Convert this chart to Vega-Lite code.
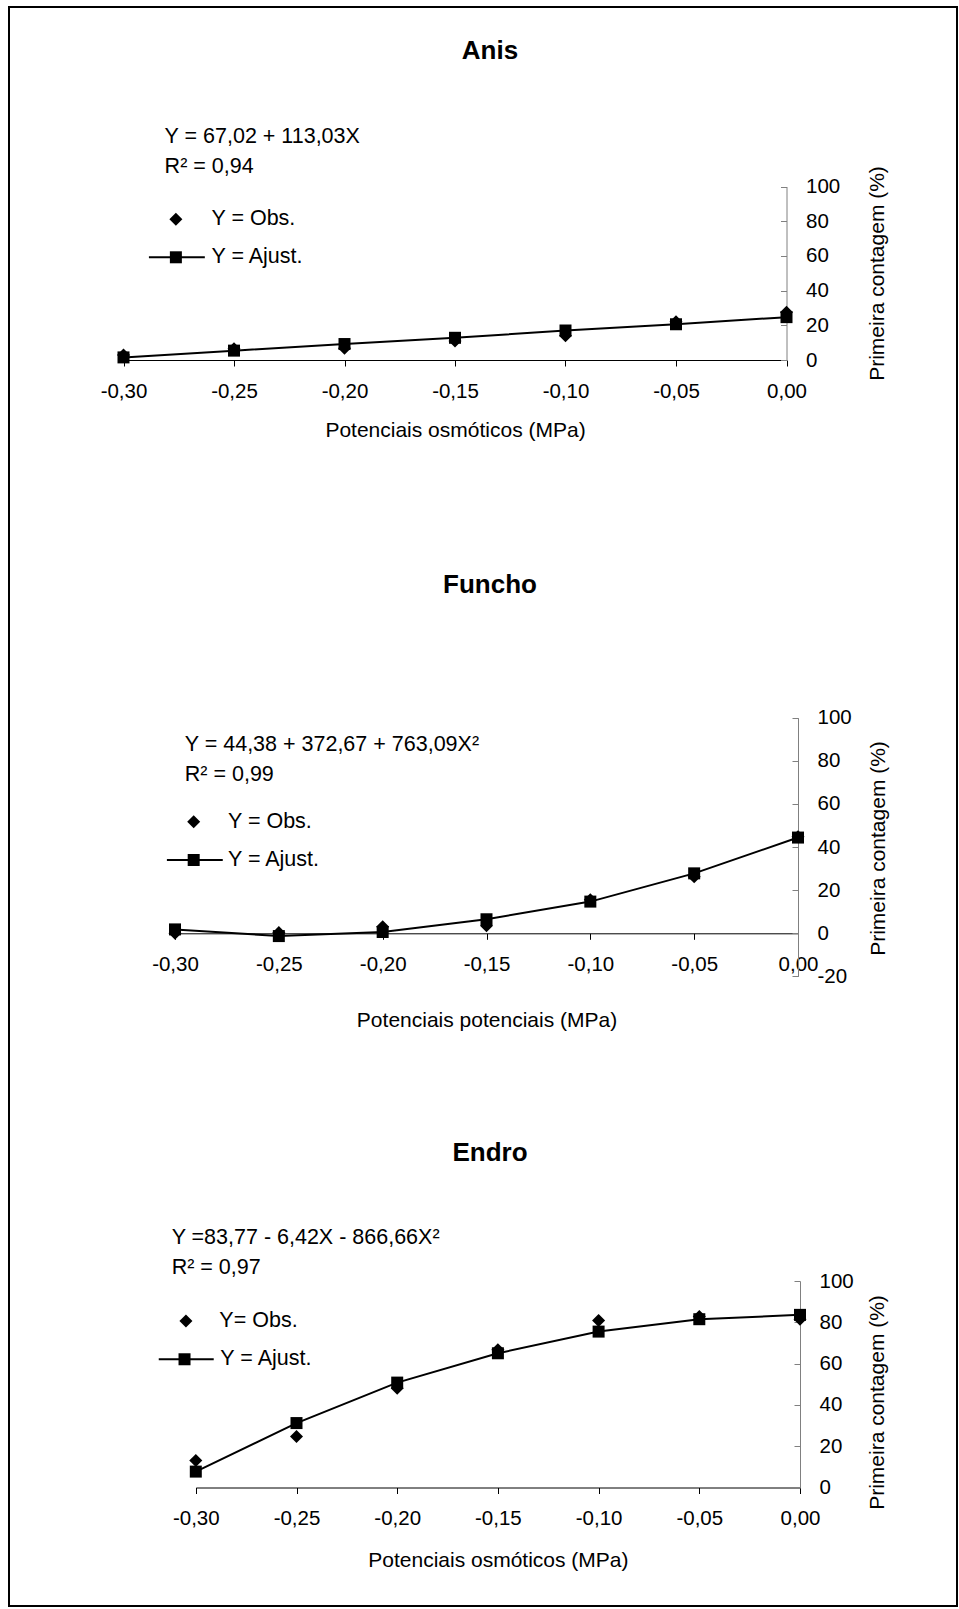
{
  "$schema": "https://vega.github.io/schema/vega-lite/v6.json",
  "width": 948,
  "height": 1599,
  "autosize": {"type": "none"},
  "padding": {"left": 9, "top": 7, "right": 2, "bottom": 3},
  "background": "white",
  "config": {
    "view": {"stroke": "#000", "strokeWidth": 2},
    "font": "Liberation Sans",
    "axis": {
      "grid": false,
      "labelFont": "Liberation Sans",
      "labelFontSize": 20.5,
      "labelColor": "#000",
      "titleFont": "Liberation Sans",
      "titleFontSize": 21,
      "titleFontWeight": "normal",
      "titleColor": "#000",
      "labelOverlap": false,
      "labelFlush": false,
      "labelBound": false
    },
    "text": {"font": "Liberation Sans", "fontSize": 21.5, "color": "#000"}
  },
  "datasets": {
    "anis": [
      {"p": -0.30, "obs": 2.9, "fit": 1.5},
      {"p": -0.25, "obs": 6.5, "fit": 5.4},
      {"p": -0.20, "obs": 6.8, "fit": 9.2},
      {"p": -0.15, "obs": 11.0, "fit": 12.8},
      {"p": -0.10, "obs": 14.0, "fit": 17.0},
      {"p": -0.05, "obs": 22.0, "fit": 20.6},
      {"p": 0.00, "obs": 27.5, "fit": 24.7}
    ],
    "funcho": [
      {"p": -0.30, "obs": 0.0, "fit": 1.8},
      {"p": -0.25, "obs": 0.3, "fit": -1.3},
      {"p": -0.20, "obs": 3.0, "fit": 0.6},
      {"p": -0.15, "obs": 3.5, "fit": 6.5},
      {"p": -0.10, "obs": 15.5, "fit": 14.7},
      {"p": -0.05, "obs": 26.2, "fit": 27.8},
      {"p": 0.00, "obs": 44.8, "fit": 44.4}
    ],
    "endro": [
      {"p": -0.30, "obs": 13.1, "fit": 7.7},
      {"p": -0.25, "obs": 24.7, "fit": 31.2},
      {"p": -0.20, "obs": 48.1, "fit": 50.8},
      {"p": -0.15, "obs": 66.7, "fit": 65.0},
      {"p": -0.10, "obs": 80.9, "fit": 75.5},
      {"p": -0.05, "obs": 82.8, "fit": 81.5},
      {"p": 0.00, "obs": 81.5, "fit": 83.6}
    ],
    "one": [{}]
  },
  "layer": [
    {
      "data": {"name": "anis"},
      "layer": [
        {
          "mark": {"type": "point", "shape": "diamond", "filled": true, "size": 170, "color": "#000", "opacity": 1},
          "encoding": {
            "x": {"field": "p", "type": "quantitative",
              "scale": {"domain": [-0.3, 0], "range": [114.5, 777.5], "nice": false, "zero": false},
              "axis": {"orient": "bottom", "offset": -1246, "values": [-0.3, -0.25, -0.2, -0.15, -0.1, -0.05, 0],
                "labelExpr": "(datum.value < 0 ? '-' : '') + replace(format(abs(datum.value), '.2f'), '.', ',')",
                "tickSize": 6, "tickColor": "#000", "domainColor": "#000", "labelPadding": 15,
                "title": "Potenciais osmóticos (MPa)", "titleY": 70, "titleBaseline": "middle"}},
            "y": {"field": "obs", "type": "quantitative",
              "scale": {"domain": [0, 100], "range": [353, 179.5], "nice": false, "zero": false},
              "axis": {"orient": "right", "offset": -170.5, "values": [0, 20, 40, 60, 80, 100],
                "labelExpr": "(datum.value < 0 ? '-' : '') + format(abs(datum.value), 'd')",
                "tickSize": -6, "labelPadding": 25, "labelAlign": "left", "labelBaseline": "middle",
                "domainColor": "#808080", "tickColor": "#808080",
                "title": "Primeira contagem (%)", "titleAngle": 270, "titleX": 90.5, "titleY": 266,
                "titleAlign": "center", "titleBaseline": "middle"}}
          }
        },
        {
          "mark": {"type": "line", "color": "#000", "strokeWidth": 2},
          "encoding": {
            "x": {"field": "p", "type": "quantitative"},
            "y": {"field": "fit", "type": "quantitative"}
          }
        },
        {
          "mark": {"type": "point", "shape": "square", "filled": true, "size": 144, "color": "#000", "opacity": 1},
          "encoding": {
            "x": {"field": "p", "type": "quantitative"},
            "y": {"field": "fit", "type": "quantitative"}
          }
        },
        {
          "data": {"name": "one"},
          "mark": {"type": "text", "align": "center", "baseline": "middle", "fontSize": 26, "fontWeight": "bold"},
          "encoding": {"x": {"datum": -0.1342, "type": "quantitative"}, "y": {"datum": 178.1, "type": "quantitative"}, "text": {"value": "Anis"}}
        },
        {
          "data": {"name": "one"},
          "mark": {"type": "text", "align": "left", "baseline": "middle"},
          "encoding": {"x": {"datum": -0.2814, "type": "quantitative"}, "y": {"datum": 128.7, "type": "quantitative"}, "text": {"value": "Y = 67,02 + 113,03X"}}
        },
        {
          "data": {"name": "one"},
          "mark": {"type": "text", "align": "left", "baseline": "middle"},
          "encoding": {"x": {"datum": -0.2814, "type": "quantitative"}, "y": {"datum": 111.4, "type": "quantitative"}, "text": {"value": "R² = 0,94"}}
        },
        {
          "data": {"name": "one"},
          "mark": {"type": "point", "shape": "diamond", "filled": true, "size": 170, "color": "#000", "opacity": 1},
          "encoding": {"x": {"datum": -0.2763, "type": "quantitative"}, "y": {"datum": 81.1, "type": "quantitative"}}
        },
        {
          "data": {"name": "one"},
          "mark": {"type": "text", "align": "left", "baseline": "middle"},
          "encoding": {"x": {"datum": -0.2602, "type": "quantitative"}, "y": {"datum": 81.1, "type": "quantitative"}, "text": {"value": "Y = Obs."}}
        },
        {
          "data": {"name": "one"},
          "mark": {"type": "rule", "color": "#000", "strokeWidth": 2},
          "encoding": {"x": {"datum": -0.2885, "type": "quantitative"}, "x2": {"datum": -0.2632}, "y": {"datum": 59.2, "type": "quantitative"}}
        },
        {
          "data": {"name": "one"},
          "mark": {"type": "point", "shape": "square", "filled": true, "size": 144, "color": "#000", "opacity": 1},
          "encoding": {"x": {"datum": -0.2763, "type": "quantitative"}, "y": {"datum": 59.2, "type": "quantitative"}}
        },
        {
          "data": {"name": "one"},
          "mark": {"type": "text", "align": "left", "baseline": "middle"},
          "encoding": {"x": {"datum": -0.2602, "type": "quantitative"}, "y": {"datum": 59.2, "type": "quantitative"}, "text": {"value": "Y = Ajust."}}
        }
      ]
    },
    {
      "data": {"name": "funcho"},
      "layer": [
        {
          "mark": {"type": "point", "shape": "diamond", "filled": true, "size": 170, "color": "#000", "opacity": 1},
          "encoding": {
            "x": {"field": "p", "type": "quantitative",
              "scale": {"domain": [-0.3, 0], "range": [166, 789], "nice": false, "zero": false},
              "axis": {"orient": "bottom", "offset": -672.7, "values": [-0.3, -0.25, -0.2, -0.15, -0.1, -0.05, 0],
                "labelExpr": "(datum.value < 0 ? '-' : '') + replace(format(abs(datum.value), '.2f'), '.', ',')",
                "tickSize": 6, "tickColor": "#000", "domainColor": "#000", "labelPadding": 15,
                "title": "Potenciais potenciais (MPa)", "titleY": 87, "titleBaseline": "middle"}},
            "y": {"field": "obs", "type": "quantitative",
              "scale": {"domain": [-20, 100], "range": [969.4, 710.7], "nice": false, "zero": false},
              "axis": {"orient": "right", "offset": -159, "values": [-20, 0, 20, 40, 60, 80, 100],
                "labelExpr": "(datum.value < 0 ? '-' : '') + format(abs(datum.value), 'd')",
                "tickSize": -6, "labelPadding": 25, "labelAlign": "left", "labelBaseline": "middle",
                "domainColor": "#808080", "tickColor": "#808080",
                "title": "Primeira contagem (%)", "titleAngle": 270, "titleX": 80, "titleY": 841,
                "titleAlign": "center", "titleBaseline": "middle"}}
          }
        },
        {
          "mark": {"type": "line", "color": "#000", "strokeWidth": 2},
          "encoding": {
            "x": {"field": "p", "type": "quantitative"},
            "y": {"field": "fit", "type": "quantitative"}
          }
        },
        {
          "mark": {"type": "point", "shape": "square", "filled": true, "size": 144, "color": "#000", "opacity": 1},
          "encoding": {
            "x": {"field": "p", "type": "quantitative"},
            "y": {"field": "fit", "type": "quantitative"}
          }
        },
        {
          "data": {"name": "one"},
          "mark": {"type": "text", "align": "center", "baseline": "middle", "fontSize": 26, "fontWeight": "bold"},
          "encoding": {"x": {"datum": -0.1483, "type": "quantitative"}, "y": {"datum": 161.5, "type": "quantitative"}, "text": {"value": "Funcho"}}
        },
        {
          "data": {"name": "one"},
          "mark": {"type": "text", "align": "left", "baseline": "middle"},
          "encoding": {"x": {"datum": -0.2953, "type": "quantitative"}, "y": {"datum": 87.3, "type": "quantitative"}, "text": {"value": "Y = 44,38 + 372,67 + 763,09X²"}}
        },
        {
          "data": {"name": "one"},
          "mark": {"type": "text", "align": "left", "baseline": "middle"},
          "encoding": {"x": {"datum": -0.2953, "type": "quantitative"}, "y": {"datum": 73.4, "type": "quantitative"}, "text": {"value": "R² = 0,99"}}
        },
        {
          "data": {"name": "one"},
          "mark": {"type": "point", "shape": "diamond", "filled": true, "size": 170, "color": "#000", "opacity": 1},
          "encoding": {"x": {"datum": -0.291, "type": "quantitative"}, "y": {"datum": 51.7, "type": "quantitative"}}
        },
        {
          "data": {"name": "one"},
          "mark": {"type": "text", "align": "left", "baseline": "middle"},
          "encoding": {"x": {"datum": -0.2745, "type": "quantitative"}, "y": {"datum": 51.7, "type": "quantitative"}, "text": {"value": "Y = Obs."}}
        },
        {
          "data": {"name": "one"},
          "mark": {"type": "rule", "color": "#000", "strokeWidth": 2},
          "encoding": {"x": {"datum": -0.3039, "type": "quantitative"}, "x2": {"datum": -0.277}, "y": {"datum": 34.0, "type": "quantitative"}}
        },
        {
          "data": {"name": "one"},
          "mark": {"type": "point", "shape": "square", "filled": true, "size": 144, "color": "#000", "opacity": 1},
          "encoding": {"x": {"datum": -0.291, "type": "quantitative"}, "y": {"datum": 34.0, "type": "quantitative"}}
        },
        {
          "data": {"name": "one"},
          "mark": {"type": "text", "align": "left", "baseline": "middle"},
          "encoding": {"x": {"datum": -0.2745, "type": "quantitative"}, "y": {"datum": 34.0, "type": "quantitative"}, "text": {"value": "Y = Ajust."}}
        }
      ]
    },
    {
      "data": {"name": "endro"},
      "layer": [
        {
          "mark": {"type": "point", "shape": "diamond", "filled": true, "size": 170, "color": "#000", "opacity": 1},
          "encoding": {
            "x": {"field": "p", "type": "quantitative",
              "scale": {"domain": [-0.3, 0], "range": [186.8, 791], "nice": false, "zero": false},
              "axis": {"orient": "bottom", "offset": -118.5, "values": [-0.3, -0.25, -0.2, -0.15, -0.1, -0.05, 0],
                "labelExpr": "(datum.value < 0 ? '-' : '') + replace(format(abs(datum.value), '.2f'), '.', ',')",
                "tickSize": 6, "tickColor": "#000", "domainColor": "#000", "labelPadding": 15,
                "title": "Potenciais osmóticos (MPa)", "titleY": 72.5, "titleBaseline": "middle"}},
            "y": {"field": "obs", "type": "quantitative",
              "scale": {"domain": [0, 100], "range": [1480.5, 1274], "nice": false, "zero": false},
              "axis": {"orient": "right", "offset": -157, "values": [0, 20, 40, 60, 80, 100],
                "labelExpr": "(datum.value < 0 ? '-' : '') + format(abs(datum.value), 'd')",
                "tickSize": -6, "labelPadding": 25, "labelAlign": "left", "labelBaseline": "middle",
                "domainColor": "#808080", "tickColor": "#808080",
                "title": "Primeira contagem (%)", "titleAngle": 270, "titleX": 77, "titleY": 1395,
                "titleAlign": "center", "titleBaseline": "middle"}}
          }
        },
        {
          "mark": {"type": "line", "color": "#000", "strokeWidth": 2},
          "encoding": {
            "x": {"field": "p", "type": "quantitative"},
            "y": {"field": "fit", "type": "quantitative"}
          }
        },
        {
          "mark": {"type": "point", "shape": "square", "filled": true, "size": 144, "color": "#000", "opacity": 1},
          "encoding": {
            "x": {"field": "p", "type": "quantitative"},
            "y": {"field": "fit", "type": "quantitative"}
          }
        },
        {
          "data": {"name": "one"},
          "mark": {"type": "text", "align": "center", "baseline": "middle", "fontSize": 26, "fontWeight": "bold"},
          "encoding": {"x": {"datum": -0.1539, "type": "quantitative"}, "y": {"datum": 161.8, "type": "quantitative"}, "text": {"value": "Endro"}}
        },
        {
          "data": {"name": "one"},
          "mark": {"type": "text", "align": "left", "baseline": "middle"},
          "encoding": {"x": {"datum": -0.312, "type": "quantitative"}, "y": {"datum": 120.7, "type": "quantitative"}, "text": {"value": "Y =83,77 - 6,42X - 866,66X²"}}
        },
        {
          "data": {"name": "one"},
          "mark": {"type": "text", "align": "left", "baseline": "middle"},
          "encoding": {"x": {"datum": -0.312, "type": "quantitative"}, "y": {"datum": 106.2, "type": "quantitative"}, "text": {"value": "R² = 0,97"}}
        },
        {
          "data": {"name": "one"},
          "mark": {"type": "point", "shape": "diamond", "filled": true, "size": 170, "color": "#000", "opacity": 1},
          "encoding": {"x": {"datum": -0.3049, "type": "quantitative"}, "y": {"datum": 80.6, "type": "quantitative"}}
        },
        {
          "data": {"name": "one"},
          "mark": {"type": "text", "align": "left", "baseline": "middle"},
          "encoding": {"x": {"datum": -0.2883, "type": "quantitative"}, "y": {"datum": 80.6, "type": "quantitative"}, "text": {"value": "Y= Obs."}}
        },
        {
          "data": {"name": "one"},
          "mark": {"type": "rule", "color": "#000", "strokeWidth": 2},
          "encoding": {"x": {"datum": -0.3184, "type": "quantitative"}, "x2": {"datum": -0.2911}, "y": {"datum": 62.1, "type": "quantitative"}}
        },
        {
          "data": {"name": "one"},
          "mark": {"type": "point", "shape": "square", "filled": true, "size": 144, "color": "#000", "opacity": 1},
          "encoding": {"x": {"datum": -0.3056, "type": "quantitative"}, "y": {"datum": 62.1, "type": "quantitative"}}
        },
        {
          "data": {"name": "one"},
          "mark": {"type": "text", "align": "left", "baseline": "middle"},
          "encoding": {"x": {"datum": -0.2878, "type": "quantitative"}, "y": {"datum": 62.1, "type": "quantitative"}, "text": {"value": "Y = Ajust."}}
        }
      ]
    }
  ],
  "resolve": {"scale": {"x": "independent", "y": "independent"}, "axis": {"x": "independent", "y": "independent"}}
}
